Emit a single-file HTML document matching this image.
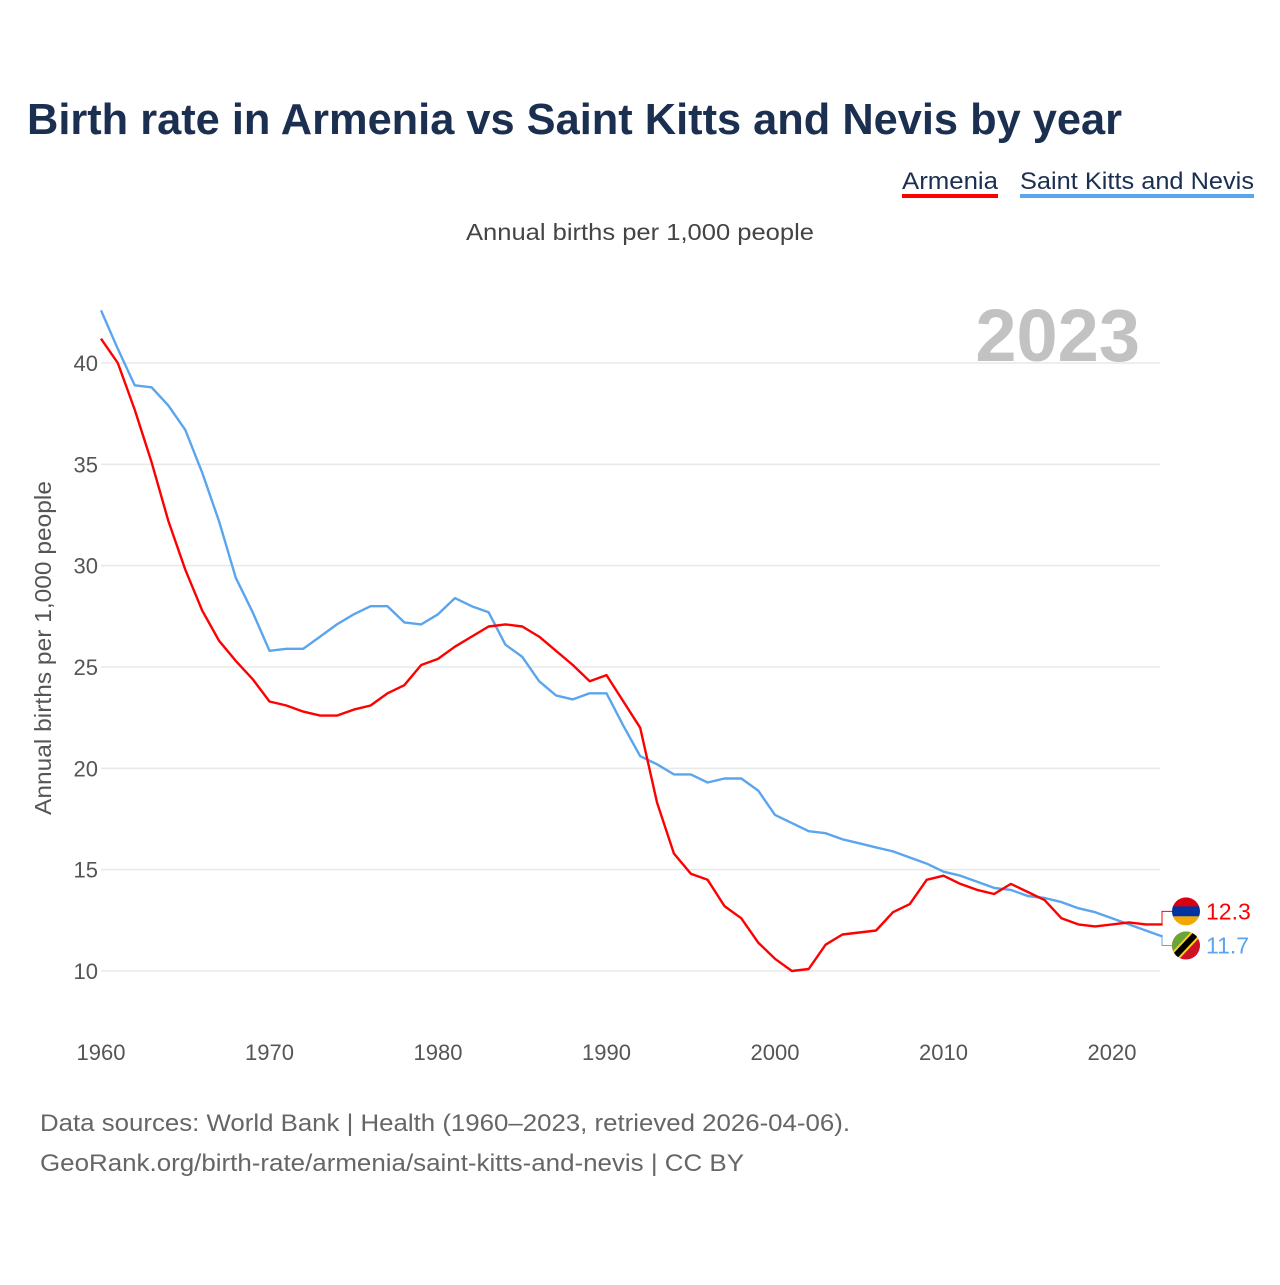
<!DOCTYPE html>
<html><head><meta charset="utf-8"><style>
body{margin:0;background:#fff;font-family:"Liberation Sans",sans-serif;}
svg text{font-family:"Liberation Sans",sans-serif;}
</style></head><body>
<svg id="chart" width="1280" height="1280" viewBox="0 0 1280 1280">
<text x="27" y="134" font-size="44" font-weight="bold" fill="#1b2f50" textLength="1095" lengthAdjust="spacingAndGlyphs">Birth rate in Armenia vs Saint Kitts and Nevis by year</text>
<g>
<text x="902" y="189" font-size="24" fill="#1b2f50" textLength="96" lengthAdjust="spacingAndGlyphs">Armenia</text>
<rect x="902" y="194" width="96" height="4" fill="#ff0000"/>
<text x="1020" y="189" font-size="24" fill="#1b2f50" textLength="234" lengthAdjust="spacingAndGlyphs">Saint Kitts and Nevis</text>
<rect x="1020" y="194" width="234" height="4" fill="#5aa5ee"/>
</g>
<text x="466" y="240" font-size="23" fill="#444" textLength="348" lengthAdjust="spacingAndGlyphs">Annual births per 1,000 people</text>
<text x="1140" y="361" font-size="74" font-weight="bold" fill="#c2c2c2" text-anchor="end">2023</text>
<text transform="translate(51,648) rotate(-90)" font-size="23" fill="#555" text-anchor="middle" textLength="334" lengthAdjust="spacingAndGlyphs">Annual births per 1,000 people</text>
<g id="grid"></g>
<g id="yticks"></g>
<g id="xticks"></g>
<g id="series"></g>
<g id="endlabels"></g>
<text x="40" y="1131" font-size="24" fill="#666" textLength="810" lengthAdjust="spacingAndGlyphs">Data sources: World Bank | Health (1960–2023, retrieved 2026-04-06).</text>
<text x="40" y="1171" font-size="24" fill="#666" textLength="704" lengthAdjust="spacingAndGlyphs">GeoRank.org/birth-rate/armenia/saint-kitts-and-nevis | CC BY</text>
</svg>
<script>
const startYear = 1960;
const armenia = [41.2,40.0,37.7,35.1,32.2,29.8,27.8,26.3,25.3,24.4,23.3,23.1,22.8,22.6,22.6,22.9,23.1,23.7,24.1,25.1,25.4,26.0,26.5,27.0,27.1,27.0,26.5,25.8,25.1,24.3,24.6,23.3,22.0,18.3,15.8,14.8,14.5,13.2,12.6,11.4,10.6,10.0,10.1,11.3,11.8,11.9,12.0,12.9,13.3,14.5,14.7,14.3,14.0,13.8,14.3,13.9,13.5,12.6,12.3,12.2,12.3,12.4,12.3,12.3];
const saintKitts = [42.6,40.7,38.9,38.8,37.9,36.7,34.6,32.2,29.4,27.7,25.8,25.9,25.9,26.5,27.1,27.6,28.0,28.0,27.2,27.1,27.6,28.4,28.0,27.7,26.1,25.5,24.3,23.6,23.4,23.7,23.7,22.1,20.6,20.2,19.7,19.7,19.3,19.5,19.5,18.9,17.7,17.3,16.9,16.8,16.5,16.3,16.1,15.9,15.6,15.3,14.9,14.7,14.4,14.1,14.0,13.7,13.6,13.4,13.1,12.9,12.6,12.3,12.0,11.7];
const yTicks = [10,15,20,25,30,35,40];
const xTicks = [1960,1970,1980,1990,2000,2010,2020];
const NS = "http://www.w3.org/2000/svg";
const x = yr => 101 + (yr - 1960) * (1011/60);
const y = v => 971 - (v - 10) * (608/30);
function mk(tag, attrs, parent){const e=document.createElementNS(NS,tag);for(const k in attrs)e.setAttribute(k,attrs[k]);parent.appendChild(e);return e;}
const grid=document.getElementById('grid'), yt=document.getElementById('yticks'), xt=document.getElementById('xticks');
yTicks.forEach(v=>{
  const l=mk('line',{x1:101,x2:1160,y1:y(v),y2:y(v),stroke:'#e8e8e8','stroke-width':1.5},grid);
  
  
  const t=mk('text',{x:98,y:y(v)+8,'font-size':22,fill:'#555','text-anchor':'end'},yt);
  t.textContent=v;
  
  
});
xTicks.forEach(v=>{
  const t=mk('text',{x:x(v),y:1060,'font-size':22,fill:'#555','text-anchor':'middle'},xt);
  t.textContent=v;
  
  
});
const ser=document.getElementById('series');
function line(data,color,name){
  const d=data.map((v,i)=>(i?'L':'M')+x(startYear+i).toFixed(1)+','+y(v).toFixed(1)).join('');
  const p=mk('path',{d:d,fill:'none',stroke:color,'stroke-width':2.4,'stroke-linejoin':'round'},ser);
  
  
}
line(saintKitts,'#5aa5ee','line-saint-kitts');
line(armenia,'#ff0000','line-armenia');
const el=document.getElementById('endlabels');
const lastYear=startYear+armenia.length-1, ex=x(lastYear);
const aV=armenia[armenia.length-1], sV=saintKitts[saintKitts.length-1];
const aY=y(aV)-13, sY=y(sV)+9;
const c1=mk('path',{d:`M${ex},${y(aV)}H1162V${aY}H1172`,fill:'none',stroke:'#ff0000','stroke-width':1},el);


const c2=mk('path',{d:`M${ex},${y(sV)}H1162V${sY}H1172`,fill:'none',stroke:'#5aa5ee','stroke-width':1},el);


const fa=mk('g',{},el);


const cpa=mk('clipPath',{id:'ca'},fa);
mk('circle',{cx:1186,cy:aY,r:14},cpa);
const ga=mk('g',{'clip-path':'url(#ca)'},fa);
mk('rect',{x:1172,y:aY-14,width:28,height:10,fill:'#d90012'},ga);
mk('rect',{x:1172,y:aY-5,width:28,height:10,fill:'#0033a0'},ga);
mk('rect',{x:1172,y:aY+5,width:28,height:10,fill:'#f2a800'},ga);
const fs=mk('g',{},el);


const cp=mk('clipPath',{id:'cs'},fs);
mk('circle',{cx:1186,cy:sY,r:14},cp);
const gs=mk('g',{'clip-path':'url(#cs)'},fs);
mk('rect',{x:1172,y:sY-14,width:28,height:28,fill:'#ce1126'},gs);
mk('polygon',{points:`1172,${sY-14} 1200,${sY-14} 1172,${sY+14}`,fill:'#6aa539'},gs);
mk('line',{x1:1200,y1:sY-16,x2:1170,y2:sY+16,stroke:'#fcd116','stroke-width':10},gs);
mk('line',{x1:1200,y1:sY-16,x2:1170,y2:sY+16,stroke:'#000','stroke-width':6},gs);
const la=mk('text',{x:1206,y:aY+8,'font-size':23,fill:'#ff0000'},el);
la.textContent=aV.toFixed(1);


const ls=mk('text',{x:1206,y:sY+8,'font-size':23,fill:'#5aa5ee'},el);
ls.textContent=sV.toFixed(1);


</script>
</body></html>
